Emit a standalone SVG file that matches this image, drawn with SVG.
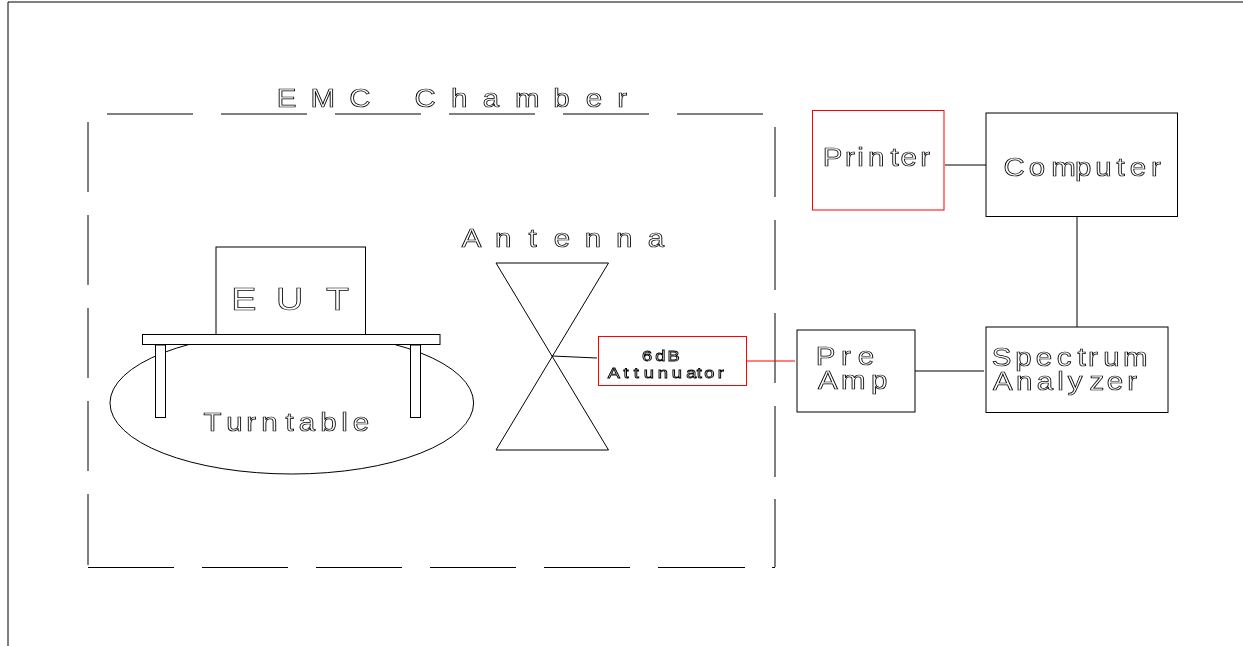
<svg xmlns="http://www.w3.org/2000/svg" width="1243" height="646" viewBox="0 0 1243 646">
<defs><filter id="f" x="-10%" y="-20%" width="120%" height="140%" color-interpolation-filters="sRGB"><feOffset dx="0" dy="0"/></filter></defs>
<style>
.l{fill:none;stroke:#000;stroke-width:1}
.b{fill:#fff;stroke:#000;stroke-width:1}
.r{fill:#fff;stroke:#f00;stroke-width:1}
.t{font-family:"Liberation Sans",Arial,sans-serif;font-size:25px;fill:#fff;stroke:#000;stroke-width:.75;filter:url(#f);transform:translateY(1.5px) scale(1.18,1);transform-origin:0 0}
.s{font-size:15.5px;stroke-width:.85}
.g{font-size:32px}
</style>
<rect width="1243" height="646" fill="#fff"/>
<g id="frame"><path class="l" d="M1243 2H8V646"/></g>
<g id="chamber">
<path class="l" d="M107 114h86M221 114h86M335 114h86M449 114h86M563 114h86M677 114h86"/>
<path class="l" d="M88 122v70M88 215v70M88 308v70M88 401v70M88 494v71"/>
<path class="l" d="M775 127v70M775 220v70M775 313v70M775 406v71M775 499v68"/>
<path class="l" d="M88 567.5h86M202 567.5h86M316 567.5h86M430 567.5h86M544 567.5h86M658 567.5h87M772 567.5h3"/>
<text class="t" y="105.5" x="234.5 263.2 296 320 351.3 382.3 409.2 436.5 468.8 496.5 523">EMC Chamber</text>
</g>
<g id="turntable">
<ellipse class="b" cx="291.8" cy="403" rx="181.8" ry="71"/>
<text class="t" y="430" x="172.4 191.7 208.6 221.3 242 253.2 271.4 289.1 299">Turntable</text>
</g>
<g id="eut">
<rect class="b" x="216" y="247" width="149.5" height="88"/>
<text class="t g" y="308.5" x="195.9 234 276.3">EUT</text>
</g>
<g id="table">
<rect class="b" x="142.5" y="334.5" width="297.5" height="10"/>
<rect class="b" x="155.5" y="345" width="10" height="72.5"/>
<rect class="b" x="410.5" y="345" width="10" height="72.5"/>
</g>
<g id="antenna">
<path class="l" d="M496 263H608.5L496 450H608.5Z"/>
<text class="t" y="246" x="391.3 419.6 447.9 469.3 495.6 522.1 549">Antenna</text>
</g>
<g id="attenuator">
<rect class="r" x="598.5" y="336.5" width="148" height="49"/>
<text class="t s" y="360" x="544 555.4 565.7">6dB</text>
<text class="t s" y="376.5" x="515 528.5 537 545.6 557.5 569.3 581.6 590.4 596.9 608.3">Attunuator</text>
</g>
<g id="preamp">
<rect class="b" x="797" y="330" width="118" height="82"/>
<text class="t" y="364" x="691.3 712.8 727">Pre</text>
<text class="t" y="388" x="693.2 712.8 738.2">Amp</text>
</g>
<g id="spectrum">
<rect class="b" x="986" y="327" width="182" height="85.5"/>
<text class="t" y="365" x="840.4 860.3 877.8 895.6 913.2 922.1 934.9 951.8">Spectrum</text>
<text class="t" y="389" x="841.5 861.1 878.7 895.9 904.8 923.3 938 955.2">Analyzer</text>
</g>
<g id="computer">
<rect class="b" x="986" y="113" width="191.5" height="103.5"/>
<text class="t" y="175" x="850.5 871.9 890.8 911.1 928.2 946.2 957.5 975.5">Computer</text>
</g>
<g id="printer">
<rect class="r" x="812.5" y="110.5" width="131.5" height="99.5"/>
<text class="t" y="164.5" x="697.3 716.2 726.4 735.7 754.7 763.2 779.8">Printer</text>
</g>
<g id="connectors">
<path class="l" d="M552 356L597 358"/>
<path stroke="#f00" fill="none" d="M747 361H795"/>
<path class="l" d="M915 371H984M945 165H986M1077 216V327"/>
</g>
</svg>
